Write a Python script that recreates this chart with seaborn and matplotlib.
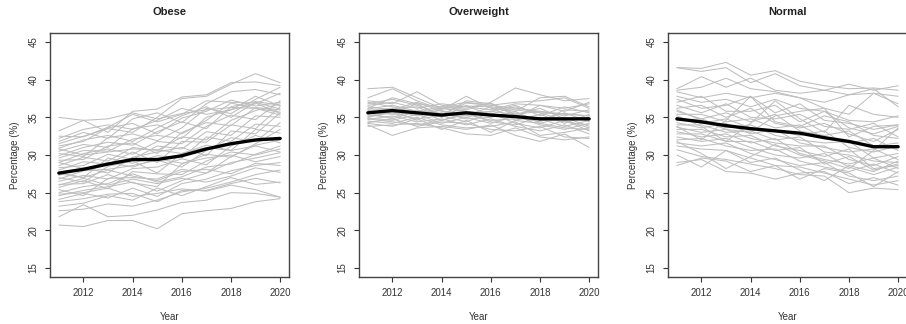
import numpy as np
import pandas as pd
import matplotlib
matplotlib.use('Agg')
import matplotlib.pyplot as plt
import seaborn as sns

# ─────────────────────────────────────────
# DATA  (percentages, 2011-2020)
# ─────────────────────────────────────────
years = [2011, 2012, 2013, 2014, 2015, 2016, 2017, 2018, 2019, 2020]

obese_mean = [27.6, 28.1, 28.8, 29.4, 29.4, 29.9, 30.8, 31.5, 32.0, 32.2]
overweight_mean = [35.6, 35.9, 35.6, 35.3, 35.6, 35.3, 35.1, 34.8, 34.8, 34.8]
normal_mean = [34.8, 34.4, 33.9, 33.5, 33.2, 32.9, 32.3, 31.8, 31.1, 31.1]

obese_states = [
    [20.7, 20.5, 21.3, 21.3, 20.2, 22.2, 22.6, 22.9, 23.8, 24.2],
    [21.8, 23.4, 21.8, 22.0, 22.7, 23.7, 24.0, 25.0, 24.9, 24.4],
    [22.6, 22.8, 23.5, 23.2, 24.0, 25.1, 25.6, 26.4, 27.4, 28.0],
    [23.8, 24.2, 24.8, 24.9, 23.8, 25.3, 25.3, 26.2, 26.9, 26.3],
    [24.1, 24.9, 24.3, 25.6, 24.5, 26.2, 26.8, 27.9, 28.6, 29.0],
    [24.6, 25.3, 25.8, 26.4, 25.2, 26.6, 27.6, 29.0, 29.6, 30.3],
    [25.0, 25.8, 26.2, 27.5, 26.4, 27.1, 28.4, 28.8, 30.1, 31.2],
    [25.4, 24.6, 26.9, 27.0, 26.8, 28.1, 27.6, 29.8, 31.3, 32.0],
    [25.7, 26.6, 25.5, 27.8, 27.5, 27.4, 29.2, 30.4, 30.0, 30.8],
    [26.1, 26.2, 27.4, 26.3, 25.8, 28.8, 30.1, 29.7, 31.5, 33.4],
    [26.5, 27.3, 26.8, 28.2, 28.4, 29.5, 28.7, 31.2, 32.6, 31.6],
    [26.8, 27.9, 28.1, 28.6, 29.3, 28.4, 30.6, 32.3, 31.8, 34.3],
    [27.0, 26.4, 28.5, 29.2, 27.6, 30.2, 31.3, 30.6, 33.4, 32.9],
    [27.3, 28.3, 27.6, 29.7, 30.4, 31.0, 29.9, 33.2, 32.8, 35.6],
    [27.7, 27.0, 29.6, 28.9, 29.9, 29.6, 32.4, 31.8, 34.1, 33.8],
    [28.0, 29.1, 28.8, 30.4, 29.0, 31.8, 31.7, 34.0, 33.5, 36.4],
    [28.3, 28.6, 30.1, 29.4, 31.2, 30.8, 33.1, 32.6, 35.2, 35.0],
    [28.6, 29.7, 29.2, 31.0, 30.6, 32.4, 32.0, 34.6, 35.9, 36.8],
    [29.0, 30.2, 30.8, 30.1, 31.8, 31.5, 33.8, 35.3, 34.7, 37.2],
    [29.3, 29.4, 31.2, 31.6, 30.2, 33.0, 34.3, 33.9, 36.3, 36.0],
    [29.6, 30.6, 30.5, 32.1, 32.6, 32.2, 35.0, 36.0, 36.8, 38.2],
    [29.9, 31.0, 31.7, 31.3, 33.1, 34.4, 33.5, 36.4, 37.1, 36.6],
    [30.2, 29.8, 32.3, 32.8, 31.9, 33.6, 36.2, 35.5, 37.4, 39.0],
    [30.5, 31.4, 31.0, 33.5, 34.0, 32.8, 34.6, 36.9, 36.2, 35.3],
    [30.9, 32.0, 32.6, 31.8, 33.6, 35.2, 36.4, 35.0, 37.0, 36.1],
    [31.2, 31.8, 33.6, 34.2, 32.8, 34.9, 35.8, 37.3, 36.5, 37.0],
    [31.5, 32.5, 33.5, 33.0, 35.0, 37.5, 37.8, 39.4, 40.8, 39.6],
    [31.8, 33.0, 32.2, 34.8, 35.6, 34.3, 36.8, 38.4, 38.7, 38.0],
    [32.2, 33.4, 34.0, 33.4, 34.6, 36.2, 35.4, 36.0, 37.8, 36.5],
    [32.5, 32.4, 33.7, 35.4, 34.4, 35.4, 37.2, 37.0, 36.9, 35.5],
    [33.2, 34.6, 33.0, 35.8, 36.1, 37.7, 38.0, 39.6, 39.7, 39.2],
    [35.0, 34.6, 34.8, 35.6, 34.8, 35.5, 36.0, 36.3, 36.2, 35.7],
    [24.8, 25.0, 25.6, 24.5, 24.9, 25.5, 25.2, 26.0, 25.4, 24.4],
    [26.0, 26.9, 26.0, 26.8, 26.2, 26.9, 26.4, 27.2, 28.3, 27.7],
    [27.5, 27.0, 28.0, 27.2, 26.6, 27.8, 28.1, 27.5, 28.9, 28.6],
    [29.0, 28.2, 29.0, 28.4, 29.5, 28.9, 29.6, 30.0, 29.1, 29.8],
    [30.8, 30.0, 30.4, 30.8, 30.7, 30.2, 31.0, 30.6, 31.2, 30.4],
    [23.2, 23.6, 24.6, 24.0, 25.6, 24.6, 25.8, 27.0, 26.1, 26.4],
]

overweight_states = [
    [38.8, 39.0, 37.6, 36.2, 36.5, 36.4, 36.0, 35.6, 35.5, 35.2],
    [37.6, 38.8, 37.2, 36.0, 37.8, 36.2, 35.8, 37.6, 37.8, 36.4],
    [37.2, 36.8, 38.4, 36.6, 36.2, 37.0, 38.9, 38.0, 37.2, 37.5],
    [36.8, 37.4, 36.6, 35.4, 36.9, 36.6, 36.2, 35.8, 35.2, 36.0],
    [36.4, 36.0, 37.0, 35.8, 35.6, 35.8, 36.6, 35.2, 36.4, 35.6],
    [36.1, 36.6, 35.8, 36.4, 36.0, 36.9, 35.4, 36.2, 34.8, 35.0],
    [35.9, 36.2, 36.4, 35.0, 36.6, 35.2, 35.6, 34.6, 35.6, 34.4],
    [35.7, 35.4, 35.6, 35.9, 35.2, 36.4, 34.6, 35.4, 34.2, 35.4],
    [35.5, 36.0, 35.2, 35.6, 34.8, 35.0, 35.8, 34.2, 35.0, 33.8],
    [35.3, 35.0, 36.0, 34.6, 35.4, 34.6, 34.8, 34.8, 33.8, 34.6],
    [35.1, 35.6, 34.8, 35.2, 34.4, 35.6, 34.2, 33.6, 34.6, 33.2],
    [34.9, 34.6, 35.4, 34.2, 35.0, 34.2, 35.2, 34.0, 33.4, 34.2],
    [34.7, 35.2, 34.4, 34.8, 34.0, 34.8, 33.8, 33.2, 34.0, 32.8],
    [34.5, 34.2, 35.0, 34.0, 33.6, 33.8, 34.4, 32.6, 33.0, 33.6],
    [34.3, 34.8, 33.8, 34.4, 34.2, 33.4, 33.2, 33.8, 32.4, 32.2],
    [34.0, 32.6, 33.6, 33.8, 33.4, 34.0, 32.6, 31.8, 32.8, 31.0],
    [33.8, 34.0, 34.2, 33.6, 32.8, 32.6, 33.6, 32.4, 32.0, 32.4],
    [36.6, 37.0, 36.2, 36.8, 36.4, 36.0, 36.8, 36.6, 36.2, 36.8],
    [35.0, 35.8, 34.6, 36.2, 35.8, 35.4, 35.0, 36.6, 35.8, 37.0],
    [36.0, 35.6, 36.8, 35.2, 37.2, 36.8, 35.2, 34.4, 36.0, 35.8],
    [34.8, 34.4, 34.0, 34.6, 35.6, 34.4, 34.0, 35.0, 34.4, 34.0],
    [37.0, 36.4, 35.6, 36.2, 35.8, 35.4, 36.4, 35.6, 34.6, 33.6],
    [35.6, 34.8, 35.8, 35.4, 35.0, 35.8, 35.4, 35.8, 35.4, 35.2],
    [36.2, 37.6, 36.8, 36.4, 37.0, 36.6, 37.0, 37.2, 37.6, 36.2],
    [34.2, 33.8, 34.8, 33.4, 34.6, 33.0, 34.6, 34.2, 33.6, 33.4],
]

normal_states = [
    [41.6, 41.5, 42.3, 40.6, 41.2, 39.8, 39.2, 38.8, 38.9, 38.6],
    [41.6, 41.1, 41.6, 39.6, 40.8, 39.2, 38.6, 38.0, 38.2, 37.8],
    [38.8, 40.4, 39.0, 40.2, 38.6, 38.2, 38.6, 39.4, 38.6, 39.2],
    [38.6, 39.0, 40.2, 38.8, 38.4, 37.6, 37.0, 38.0, 38.8, 36.4],
    [38.4, 37.6, 38.2, 37.6, 38.2, 37.6, 36.2, 35.4, 38.2, 36.8],
    [37.8, 37.0, 37.4, 36.4, 37.4, 36.2, 35.8, 34.6, 34.4, 35.2],
    [37.4, 36.2, 36.6, 37.8, 35.6, 36.8, 34.6, 34.2, 33.4, 34.0],
    [37.0, 37.8, 35.8, 35.8, 36.6, 34.4, 35.8, 33.6, 32.8, 33.8],
    [36.6, 35.6, 36.8, 35.0, 34.8, 35.4, 33.8, 33.4, 34.2, 32.4],
    [36.2, 36.6, 35.0, 36.2, 34.2, 33.6, 34.2, 32.8, 31.8, 33.4],
    [35.8, 34.8, 35.6, 34.4, 35.4, 33.2, 32.6, 33.2, 31.2, 31.6],
    [35.4, 35.4, 34.4, 34.8, 33.6, 34.0, 32.2, 31.6, 32.2, 30.6],
    [35.0, 34.2, 34.8, 33.6, 33.2, 32.6, 33.2, 31.0, 30.4, 31.2],
    [34.6, 34.8, 33.6, 34.0, 32.6, 32.0, 31.6, 31.8, 29.6, 30.2],
    [34.3, 33.6, 34.2, 32.8, 33.4, 31.6, 31.0, 30.4, 30.8, 29.4],
    [34.0, 34.0, 33.0, 33.2, 32.0, 32.4, 30.4, 30.0, 29.2, 29.0],
    [33.7, 33.0, 33.4, 32.2, 31.6, 31.2, 31.2, 29.4, 28.6, 29.8],
    [33.4, 33.4, 32.4, 32.6, 31.2, 30.6, 29.8, 30.8, 28.2, 28.6],
    [33.1, 32.4, 32.8, 31.6, 32.2, 30.2, 29.4, 28.8, 29.6, 28.2],
    [32.8, 32.8, 31.8, 31.8, 30.6, 31.0, 28.8, 29.8, 28.0, 28.8],
    [32.4, 31.8, 32.2, 31.0, 30.0, 29.6, 30.2, 28.4, 27.4, 28.4],
    [32.0, 32.2, 31.2, 30.6, 30.8, 29.2, 28.4, 27.8, 28.8, 27.6],
    [31.6, 31.2, 31.6, 30.2, 29.4, 28.6, 29.0, 27.2, 26.6, 27.2],
    [31.2, 30.8, 30.6, 29.6, 28.6, 28.4, 27.6, 26.8, 26.0, 26.6],
    [30.7, 29.8, 29.4, 28.8, 28.2, 27.4, 27.2, 25.0, 25.6, 25.4],
    [29.0, 29.4, 27.8, 27.6, 26.8, 27.6, 27.8, 26.2, 27.0, 26.0],
    [28.6, 29.6, 29.2, 27.8, 28.6, 26.8, 28.2, 27.6, 25.8, 27.8],
    [30.0, 28.4, 30.6, 29.0, 29.6, 28.0, 26.6, 28.6, 27.8, 29.2],
    [31.8, 30.2, 28.2, 29.8, 31.4, 30.0, 29.2, 28.2, 30.6, 33.6],
    [36.0, 34.6, 33.4, 33.0, 35.2, 35.8, 36.2, 32.4, 33.8, 34.0],
    [35.2, 33.8, 31.8, 34.2, 37.2, 34.8, 33.0, 36.6, 35.4, 35.0],
    [33.8, 32.0, 34.6, 37.8, 34.4, 33.8, 35.2, 34.4, 32.6, 32.2],
]

titles = ['Obese', 'Overweight', 'Normal']
y_ticks = [15, 20, 25, 30, 35, 40, 45]
x_ticks = [2012, 2014, 2016, 2018, 2020]


def to_long(states):
    rows = []
    for i, vals in enumerate(states):
        for yr, v in zip(years, vals):
            rows.append({'state': i, 'Year': yr, 'pct': v})
    return pd.DataFrame(rows)


# ─────────────────────────────────────────
# PLOT  (R base-graphics look)
# ─────────────────────────────────────────
sns.set_style('white')
plt.rcParams['font.family'] = ['Liberation Sans', 'DejaVu Sans']
INK = '#333333'

fig = plt.figure(figsize=(9.06, 3.24), dpi=100, facecolor='white')

# left edge of each panel in pixels; the last one runs off the right edge
panels = [
    (obese_states, obese_mean, 50),
    (overweight_states, overweight_mean, 359),
    (normal_states, normal_mean, 668),
]

for (states, mean, left_px), title in zip(panels, titles):
    ax = fig.add_axes([left_px / 906, 47 / 324, 239 / 906, 244 / 324])
    df = to_long(states)
    sns.lineplot(data=df, x='Year', y='pct', units='state', estimator=None,
                 color='#BEBEBE', linewidth=0.75, ax=ax, legend=False)
    sns.lineplot(x=years, y=mean, color='black', linewidth=2.4, ax=ax)

    ax.set_xlim(2010.64, 2020.36)
    ax.set_ylim(13.8, 46.2)
    ax.set_xticks(x_ticks)
    ax.set_yticks(y_ticks)
    ax.tick_params(direction='out', length=3.6, width=0.8, color=INK,
                   labelsize=7, labelcolor=INK, pad=4.5, left=True, bottom=True)
    for lab in ax.get_yticklabels():
        lab.set_rotation(90)
        lab.set_va('center')
    for s in ax.spines.values():
        s.set_color('#444444')
        s.set_linewidth(1.0)
    ax.set_title(title, fontsize=8, fontweight='bold', color='#222222', pad=13)
    ax.set_xlabel('Year', fontsize=7, color=INK, labelpad=10)
    ax.set_ylabel('Percentage (%)', fontsize=7, color=INK, labelpad=6)

fig.savefig('out.png', dpi=100, facecolor='white')
